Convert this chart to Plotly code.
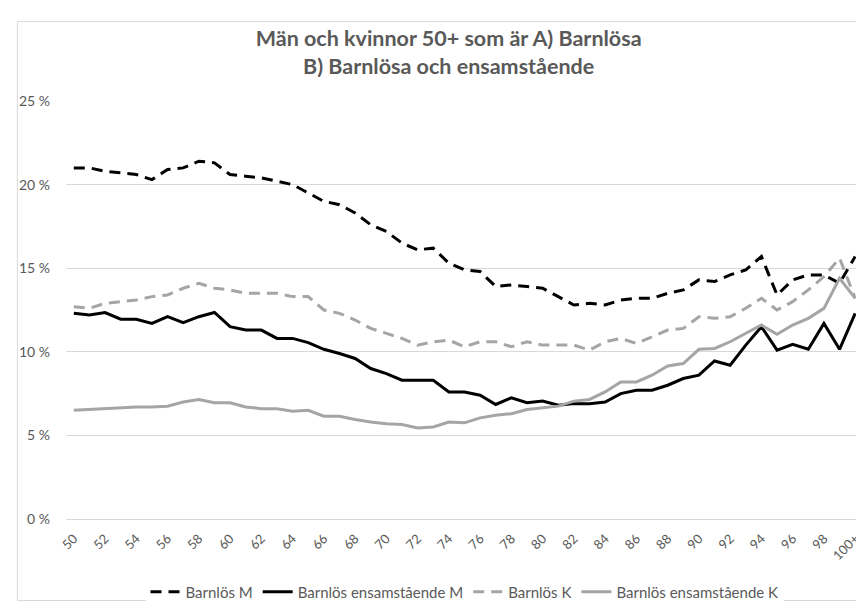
import plotly.graph_objects as go

ages = [str(a) for a in range(50, 100)] + ["100+"]

barnlos_m = [21.0, 21.0, 20.8, 20.7, 20.6, 20.3, 20.9, 21.0, 21.4, 21.3,
             20.6, 20.5, 20.4, 20.2, 20.0, 19.5, 19.0, 18.8, 18.3, 17.6,
             17.2, 16.5, 16.1, 16.2, 15.3, 14.9, 14.8, 13.9, 14.0, 13.9,
             13.8, 13.3, 12.8, 12.9, 12.8, 13.1, 13.2, 13.2, 13.5, 13.7,
             14.3, 14.2, 14.6, 14.9, 15.7, 13.4, 14.3, 14.6, 14.6, 14.1,
             15.7]
ensam_m = [12.3, 12.2, 12.35, 11.95, 11.95, 11.7, 12.1, 11.75, 12.1, 12.35,
           11.5, 11.3, 11.3, 10.8, 10.8, 10.55, 10.15, 9.9, 9.6, 9.0,
           8.7, 8.3, 8.3, 8.3, 7.6, 7.6, 7.4, 6.85, 7.25, 6.95,
           7.05, 6.8, 6.9, 6.9, 7.0, 7.5, 7.7, 7.7, 8.0, 8.4,
           8.6, 9.45, 9.2, 10.4, 11.5, 10.1, 10.45, 10.15, 11.7, 10.15,
           12.3]
barnlos_k = [12.7, 12.6, 12.9, 13.0, 13.1, 13.3, 13.4, 13.8, 14.1, 13.8,
             13.7, 13.5, 13.5, 13.5, 13.3, 13.3, 12.5, 12.3, 11.9, 11.4,
             11.1, 10.8, 10.4, 10.6, 10.7, 10.3, 10.6, 10.6, 10.3, 10.6,
             10.4, 10.4, 10.4, 10.1, 10.6, 10.8, 10.5, 10.9, 11.3, 11.4,
             12.1, 12.0, 12.1, 12.6, 13.2, 12.5, 13.0, 13.7, 14.5, 15.6,
             13.2]
ensam_k = [6.5, 6.55, 6.6, 6.65, 6.7, 6.7, 6.75, 7.0, 7.15, 6.95,
           6.95, 6.7, 6.6, 6.6, 6.45, 6.5, 6.15, 6.15, 5.95, 5.8,
           5.7, 5.65, 5.45, 5.5, 5.8, 5.75, 6.05, 6.2, 6.3, 6.55,
           6.65, 6.75, 7.05, 7.15, 7.6, 8.2, 8.2, 8.6, 9.15, 9.3,
           10.15, 10.2, 10.6, 11.1, 11.6, 11.05, 11.6, 12.0, 12.6, 14.4,
           13.2]

tick_labels = ages[::2]

BLACK = "#000000"
GRAY = "#a5a5a5"
TXT = "#595959"
FONT = "Lato, 'Open Sans', sans-serif"
DASH = "11px,7px"

fig = go.Figure()
fig.add_trace(go.Scatter(x=ages, y=barnlos_m, name="Barnlös M", mode="lines",
                         line=dict(color=BLACK, width=3, dash=DASH)))
fig.add_trace(go.Scatter(x=ages, y=ensam_m, name="Barnlös ensamstående M", mode="lines",
                         line=dict(color=BLACK, width=3)))
fig.add_trace(go.Scatter(x=ages, y=barnlos_k, name="Barnlös K", mode="lines",
                         line=dict(color=GRAY, width=3, dash=DASH)))
fig.add_trace(go.Scatter(x=ages, y=ensam_k, name="Barnlös ensamstående K", mode="lines",
                         line=dict(color=GRAY, width=3)))

fig.update_layout(
    width=864, height=609,
    paper_bgcolor="white", plot_bgcolor="white",
    margin=dict(l=58, r=9, t=93, b=87),
    font=dict(family=FONT, color=TXT, size=13),
    title=dict(text="<b>Män och kvinnor 50+ som är A) Barnlösa<br>B) Barnlösa och ensamstående</b>",
               x=0.51, xanchor="center", y=0.938, yanchor="top",
               font=dict(family=FONT, size=21.5, color=TXT)),
    xaxis=dict(type="category", tickmode="array", tickvals=tick_labels, ticktext=tick_labels,
               tickangle=-45, showgrid=False, showline=True, linecolor="#d9d9d9", linewidth=1,
               ticks="outside", ticklen=6, tickcolor="rgba(0,0,0,0)",
               tickfont=dict(size=13, color=TXT), range=[-0.5, 50.5]),
    yaxis=dict(range=[0, 25], dtick=5, ticksuffix=" %", showgrid=True, gridcolor="#d9d9d9",
               gridwidth=1, zeroline=False, showline=False, ticks="",
               tickfont=dict(size=14, color=TXT), ticklabelstandoff=15),
    legend=dict(orientation="h", x=0.5, xanchor="center", y=-0.135, yanchor="top",
                font=dict(size=15, color=TXT), traceorder="normal", itemwidth=30),
    shapes=[dict(type="rect", xref="paper", yref="paper", x0=-0.061, x1=1.005, y0=-0.195, y1=1.19,
                 line=dict(color="#d9d9d9", width=1), fillcolor="rgba(0,0,0,0)", layer="below")],
)

fig.write_html("out.html")
